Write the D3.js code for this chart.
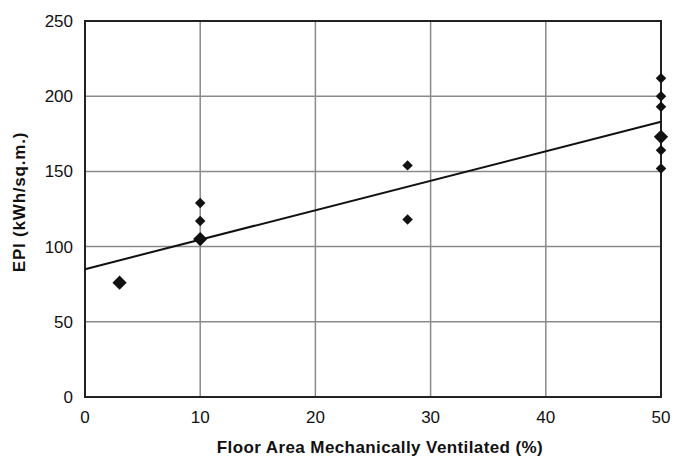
<!DOCTYPE html>
<html>
<head>
<meta charset="utf-8">
<script src="https://cdn.jsdelivr.net/npm/d3@7"></script>
<style>
  body { margin: 0; background: #fff; }
  text { font-family: "Liberation Sans", Arial, sans-serif; fill: #111; }
</style>
</head>
<body>
<div id="chart"></div>
<script>
// data
var ventPct = [3, 10, 10, 10, 28, 28, 50, 50, 50, 50, 50, 50];
var epi     = [76, 129, 117, 105, 154, 118, 212, 200, 193, 173, 164, 152];
var count   = [2, 1, 1, 2, 1, 1, 1, 1, 1, 2, 1, 1]; // overlapping buildings
var xTicks = [0, 10, 20, 30, 40, 50];
var yTicks = [0, 50, 100, 150, 200, 250];
var trendIntercept = 85, trendSlope = 1.96;

var width = 686, height = 457;
var margin = {top: 21, right: 25, bottom: 60, left: 85};

var svg = d3.select("#chart").append("svg")
    .attr("width", width)
    .attr("height", height);

var x = d3.scaleLinear().domain([0, 50]).range([margin.left, width - margin.right]);
var y = d3.scaleLinear().domain([0, 250]).range([height - margin.bottom, margin.top]);

//grid lines
svg.append("g").selectAll("line.h")
    .data(yTicks.slice(1, -1))
    .enter().append("line")
    .attr("x1", x(0)).attr("x2", x(50))
    .attr("y1", d => y(d)).attr("y2", d => y(d))
    .attr("stroke", "#8a8a8a").attr("stroke-width", 1.5);

svg.append("g").selectAll("line.v")
    .data(xTicks.slice(1, -1))
    .enter().append("line")
    .attr("y1", y(0)).attr("y2", y(250))
    .attr("x1", d => x(d)).attr("x2", d => x(d))
    .attr("stroke", "#8a8a8a").attr("stroke-width", 1.5);

//frame
svg.append("rect")
    .attr("x", x(0)).attr("y", y(250))
    .attr("width", x(50) - x(0)).attr("height", y(0) - y(250))
    .attr("fill", "none").attr("stroke", "#222").attr("stroke-width", 2);

//tick labels
svg.append("g").selectAll("text")
    .data(yTicks)
    .enter().append("text")
    .attr("x", x(0) - 12)
    .attr("y", d => y(d))
    .attr("dy", "0.35em")
    .attr("text-anchor", "end")
    .style("font-size", "17px")
    .text(d => d);

svg.append("g").selectAll("text")
    .data(xTicks)
    .enter().append("text")
    .attr("x", d => x(d))
    .attr("y", y(0) + 26)
    .attr("text-anchor", "middle")
    .style("font-size", "17px")
    .text(d => d);

//axis titles
svg.append("text")
    .attr("x", 380)
    .attr("y", 453)
    .attr("text-anchor", "middle")
    .style("font-size", "17px")
    .style("font-weight", "bold")
    .style("letter-spacing", "0.4px")
    .text("Floor Area Mechanically Ventilated (%)");

svg.append("text")
    .attr("transform", "translate(25,202) rotate(-90)")
    .attr("text-anchor", "middle")
    .style("font-size", "17px")
    .style("font-weight", "bold")
    .style("letter-spacing", "0.8px")
    .text("EPI (kWh/sq.m.)");

//trend line
svg.append("line")
    .attr("x1", x(0)).attr("y1", y(trendIntercept))
    .attr("x2", x(50)).attr("y2", y(trendIntercept + trendSlope * 50))
    .attr("stroke", "#111").attr("stroke-width", 2);

//points
var pts = ventPct.map((v, i) => ({x: v, y: epi[i], n: count[i]}));
svg.append("g").selectAll("path")
    .data(pts)
    .enter().append("path")
    .attr("transform", d => "translate(" + x(d.x) + "," + y(d.y) + ")")
    .attr("d", d => d3.symbol().type(d3.symbolDiamond2).size(d.n > 1 ? 130 : 70)())
    .attr("fill", "#111");
</script>
</body>
</html>
